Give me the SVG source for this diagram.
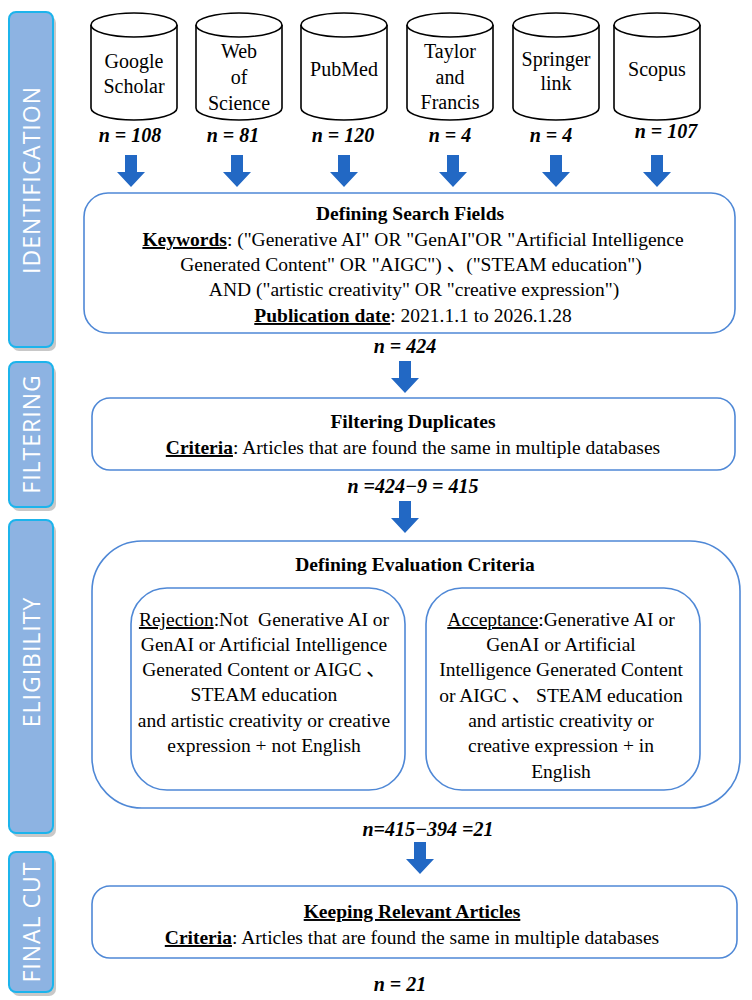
<svg xmlns="http://www.w3.org/2000/svg" width="752" height="1000" viewBox="0 0 752 1000">
<style>
.bar{fill:#8DB3E2;stroke:#1CB4EC;stroke-width:2}
.shadow{fill:#9a9a9a;opacity:0.55}
.bartxt{font-family:"Open Sans","DejaVu Sans",sans-serif;font-size:23px;fill:#fff;letter-spacing:1px}
.cyl{fill:#fff;stroke:#000;stroke-width:1.6}
.clab{font-family:"Liberation Serif","Times New Roman",serif;font-size:20px;fill:#000;text-anchor:middle}
.n{font-family:"Liberation Serif","Times New Roman",serif;font-size:20px;font-weight:bold;font-style:italic;fill:#000;text-anchor:middle}
.box{fill:#fff;stroke:#4F88D6;stroke-width:1.6}
.t{font-family:"Liberation Serif","Times New Roman","Noto Sans CJK SC",serif;font-size:19.5px;fill:#000;text-anchor:middle}
.b{font-weight:bold}
.u{text-decoration:underline}
.arr{fill:#2268C4}
</style>
<defs>
<path id="arrow" d="M-6,0 H6 V17 H14 L0,32 L-14,17 H-6 Z"/>
</defs>

<g id="bar-identification">
<rect class="shadow" x="12" y="16" width="44" height="335" rx="7"/>
<rect class="bar" x="9" y="12" width="44" height="335" rx="7"/>
<text class="bartxt" transform="translate(40,180) rotate(-90)" text-anchor="middle">IDENTIFICATION</text>
</g>
<g id="bar-filtering">
<rect class="shadow" x="12" y="366" width="44" height="145" rx="7"/>
<rect class="bar" x="9" y="362" width="44" height="145" rx="7"/>
<text class="bartxt" transform="translate(40,434) rotate(-90)" text-anchor="middle">FILTERING</text>
</g>
<g id="bar-eligibility">
<rect class="shadow" x="12" y="524" width="44" height="313" rx="7"/>
<rect class="bar" x="9" y="520" width="44" height="313" rx="7"/>
<text class="bartxt" transform="translate(40,662) rotate(-90)" text-anchor="middle">ELIGIBILITY</text>
</g>
<g id="bar-finalcut">
<rect class="shadow" x="12" y="856" width="44" height="140" rx="7"/>
<rect class="bar" x="9" y="852" width="44" height="140" rx="7"/>
<text class="bartxt" transform="translate(40,922) rotate(-90)" text-anchor="middle">FINAL CUT</text>
</g>

<g id="db-google">
<path class="cyl" d="M91,25 V108 A43,12 0 0 0 177,108 V25"/>
<ellipse class="cyl" cx="134" cy="25" rx="43" ry="12"/>
<text class="clab" x="134" y="68">Google</text>
<text class="clab" x="134" y="93">Scholar</text>
<text class="n" x="130" y="142">n = 108</text>
</g>
<g id="db-wos">
<path class="cyl" d="M196,25 V108 A43,12 0 0 0 282,108 V25"/>
<ellipse class="cyl" cx="239" cy="25" rx="43" ry="12"/>
<text class="clab" x="239" y="58">Web</text>
<text class="clab" x="239" y="84">of</text>
<text class="clab" x="239" y="110">Science</text>
<text class="n" x="233" y="142">n = 81</text>
</g>
<g id="db-pubmed">
<path class="cyl" d="M301,25 V108 A43,12 0 0 0 387,108 V25"/>
<ellipse class="cyl" cx="344" cy="25" rx="43" ry="12"/>
<text class="clab" x="344" y="76">PubMed</text>
<text class="n" x="343" y="142">n = 120</text>
</g>
<g id="db-taylor">
<path class="cyl" d="M407,25 V108 A43,12 0 0 0 493,108 V25"/>
<ellipse class="cyl" cx="450" cy="25" rx="43" ry="12"/>
<text class="clab" x="450" y="58">Taylor</text>
<text class="clab" x="450" y="84">and</text>
<text class="clab" x="450" y="109">Francis</text>
<text class="n" x="450" y="142">n = 4</text>
</g>
<g id="db-springer">
<path class="cyl" d="M513,25 V108 A43,12 0 0 0 599,108 V25"/>
<ellipse class="cyl" cx="556" cy="25" rx="43" ry="12"/>
<text class="clab" x="556" y="66">Springer</text>
<text class="clab" x="556" y="90">link</text>
<text class="n" x="551" y="142">n = 4</text>
</g>
<g id="db-scopus">
<path class="cyl" d="M614,25 V108 A43,12 0 0 0 700,108 V25"/>
<ellipse class="cyl" cx="657" cy="25" rx="43" ry="12"/>
<text class="clab" x="657" y="76">Scopus</text>
<text class="n" x="666" y="138">n = 107</text>
</g>

<g id="connectors">
<use href="#arrow" class="arr" x="131" y="155"/>
<use href="#arrow" class="arr" x="237" y="155"/>
<use href="#arrow" class="arr" x="344" y="155"/>
<use href="#arrow" class="arr" x="453" y="155"/>
<use href="#arrow" class="arr" x="556" y="155"/>
<use href="#arrow" class="arr" x="657" y="155"/>
<use href="#arrow" class="arr" x="405" y="361"/>
<use href="#arrow" class="arr" x="405" y="501"/>
<use href="#arrow" class="arr" x="420" y="842"/>
</g>

<g id="search-fields">
<rect class="box" x="84" y="193" width="651" height="140" rx="24"/>
<text class="t b" x="410" y="220">Defining Search Fields</text>
<text class="t" x="413" y="246"><tspan class="b u">Keywords</tspan>: ("Generative AI" OR "GenAI"OR "Artificial Intelligence</text>
<text class="t" x="411" y="271">Generated Content" OR "AIGC") 、("STEAM education")</text>
<text class="t" x="414" y="296">AND ("artistic creativity" OR "creative expression")</text>
<text class="t" x="413" y="322"><tspan class="b u">Publication date</tspan>: 2021.1.1 to 2026.1.28</text>
<text class="n" x="405" y="353">n = 424</text>
</g>

<g id="filtering">
<rect class="box" x="92" y="398" width="643" height="72" rx="18"/>
<text class="t b" x="413" y="428">Filtering Duplicates</text>
<text class="t" x="413" y="454"><tspan class="b u">Criteria</tspan>: Articles that are found the same in multiple databases</text>
<text class="n" x="413" y="493">n =424−9 = 415</text>
</g>

<g id="evaluation">
<rect class="box" x="92" y="541" width="648" height="267" rx="50"/>
<text class="t b" x="415" y="571">Defining Evaluation Criteria</text>
</g>
<g id="rejection">
<rect class="box" x="131" y="588" width="274" height="202" rx="36"/>
<text class="t" x="264" y="626"><tspan class="u">Rejection</tspan>:Not&#160; Generative AI or</text>
<text class="t" x="264" y="651">GenAI or Artificial Intelligence</text>
<text class="t" x="264" y="676">Generated Content or AIGC 、</text>
<text class="t" x="264" y="701">STEAM education</text>
<text class="t" x="264" y="727">and artistic creativity or creative</text>
<text class="t" x="264" y="752">expression + not English</text>
</g>
<g id="acceptance">
<rect class="box" x="426" y="588" width="274" height="202" rx="36"/>
<text class="t" x="561" y="626"><tspan class="u">Acceptance</tspan>:Generative AI or</text>
<text class="t" x="561" y="651">GenAI or Artificial</text>
<text class="t" x="561" y="676">Intelligence Generated Content</text>
<text class="t" x="561" y="702">or AIGC 、 STEAM education</text>
<text class="t" x="561" y="727">and artistic creativity or</text>
<text class="t" x="561" y="752">creative expression + in</text>
<text class="t" x="561" y="778">English</text>
</g>
<text class="n" x="428" y="836">n=415−394 =21</text>

<g id="final-cut">
<rect class="box" x="92" y="886" width="645" height="72" rx="18"/>
<text class="t b u" x="412" y="918">Keeping Relevant Articles</text>
<text class="t" x="412" y="944"><tspan class="b u">Criteria</tspan>: Articles that are found the same in multiple databases</text>
<text class="n" x="400" y="991">n = 21</text>
</g>
</svg>
